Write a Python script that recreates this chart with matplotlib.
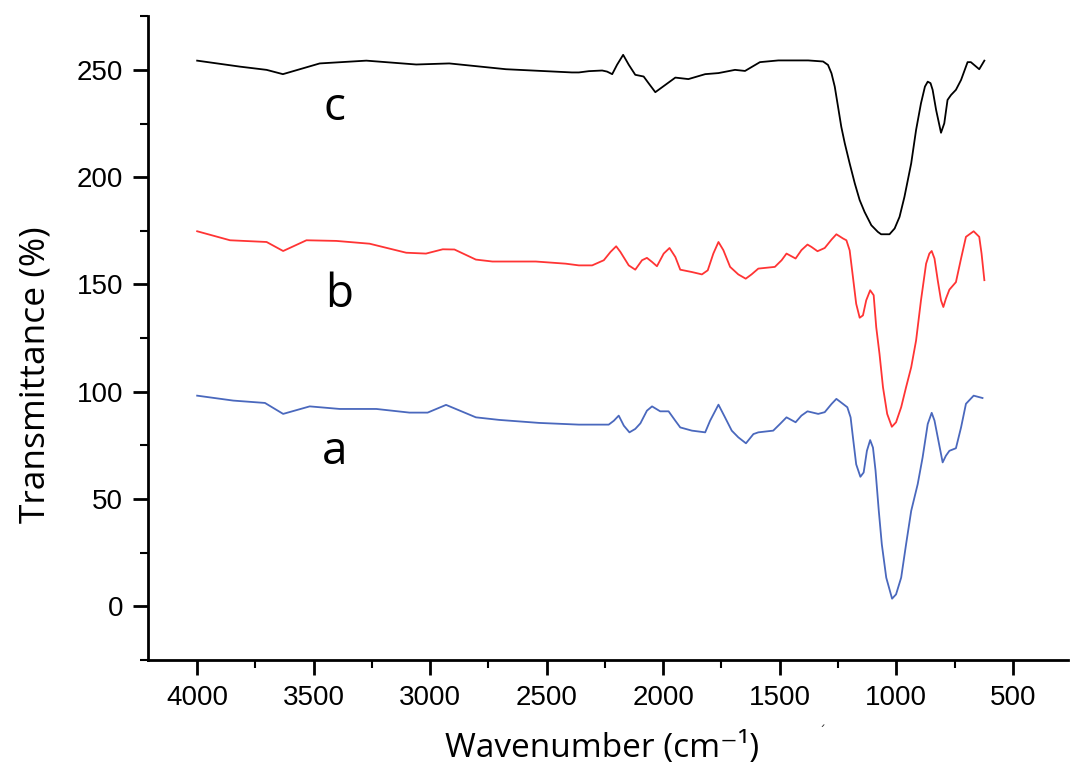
import matplotlib
matplotlib.use("Agg")
import matplotlib.pyplot as plt
from matplotlib.ticker import MultipleLocator

# ---- data ----
wn_c = [4000, 3816, 3702, 3632, 3474, 3274, 3060, 2918, 2675, 2392,
        2362, 2319, 2262, 2241, 2219, 2198, 2172, 2148, 2120, 2084, 2063, 2034, 1991,
        1948, 1892, 1820, 1763, 1692, 1649, 1621, 1585, 1506, 1378, 1314, 1293,
        1278, 1264, 1250, 1236, 1221, 1200, 1178, 1157, 1136, 1107, 1079, 1065, 1029,
        1007, 986, 965, 936, 915, 894, 877, 865, 853, 844, 829, 808, 794, 780, 765,
        744, 722, 694, 680, 644, 622]
tr_c = [254.3, 251.5, 250.0, 248.0, 253.0, 254.3, 252.5, 253.0, 250.3, 248.8,
        248.8, 249.4, 249.7, 249.2, 248.0, 252.4, 257.0, 252.4, 247.7, 246.9, 243.8, 239.6, 243.0,
        246.4, 245.7, 248.0, 248.5, 250.0, 249.5, 251.3, 253.6, 254.4, 254.4, 253.9, 252.3,
        248.4, 242.2, 232.9, 223.5, 215.8, 206.4, 197.1, 189.3, 183.8, 177.6, 174.5, 173.4, 173.4,
        176.1, 181.5, 190.8, 206.4, 222.0, 234.4, 242.2, 244.5, 243.8, 240.7, 231.3, 220.7, 225.1, 236.0, 238.3,
        240.7, 245.3, 253.6, 253.6, 250.3, 254.3]

wn_b = [4000, 3859, 3702, 3631, 3531, 3403, 3260, 3103, 3018, 2946, 2896, 2804, 2733,
        2547, 2419, 2362, 2305, 2255, 2226, 2202, 2184, 2148, 2120, 2091, 2070, 2048,
        2027, 1998, 1973, 1948, 1927, 1877, 1834, 1809, 1785, 1763, 1742, 1713, 1678,
        1646, 1621, 1592, 1521, 1492, 1471, 1432, 1407, 1381, 1364, 1338, 1307, 1278,
        1257, 1228, 1214, 1200, 1186, 1172, 1157, 1143, 1129, 1112, 1097, 1086, 1072,
        1057, 1039, 1019, 1001, 979, 958, 936, 915, 894, 872, 858, 848, 836, 822, 808,
        798, 787, 772, 744, 722, 701, 668, 644, 634, 622]
tr_b = [174.8, 170.6, 169.8, 165.6, 170.6, 170.3, 169.0, 164.8, 164.4, 166.4, 166.3, 161.6, 160.7,
        160.7, 159.7, 158.9, 158.9, 161.3, 165.2, 167.8, 165.2, 158.9, 156.9, 161.3, 162.4, 160.5,
        158.5, 164.4, 167.0, 162.8, 156.9, 155.8, 154.7, 156.6, 164.4, 169.8, 166.0, 158.2, 154.7,
        152.7, 154.7, 157.4, 158.2, 161.3, 164.4, 162.1, 166.0, 168.6, 167.5, 165.5, 167.0, 170.9,
        173.4, 171.4, 170.6, 165.9, 153.5, 141.0, 134.5, 135.6, 142.6, 147.3, 145.0, 130.1, 117.7,
        102.1, 89.7, 83.7, 85.8, 92.8, 102.1, 111.4, 123.9, 142.6, 159.7, 164.4, 165.6, 162.1, 151.9, 142.6,
        139.5, 143.4, 147.6, 151.1, 162.1, 172.2, 174.8, 172.2, 164.4, 152.0]

wn_a = [4000, 3845, 3709, 3631, 3517, 3388, 3231, 3089, 3011, 2932, 2804, 2704, 2533,
        2362, 2234, 2212, 2191, 2169, 2145, 2120, 2098, 2070, 2048, 2013, 1977, 1948,
        1927, 1877, 1820, 1799, 1763, 1735, 1706, 1678, 1645, 1613, 1592, 1528, 1499,
        1471, 1432, 1407, 1381, 1335, 1307, 1278, 1257, 1228, 1210, 1196, 1186, 1172,
        1154, 1140, 1126, 1112, 1100, 1089, 1075, 1062, 1043, 1018, 1001, 979, 958, 936,
        908, 887, 865, 848, 836, 822, 801, 787, 772, 744, 722, 701, 668, 630]
tr_a = [98.2, 95.9, 94.8, 89.7, 93.2, 92.0, 92.0, 90.3, 90.3, 93.9, 88.1, 86.9, 85.5,
        84.7, 84.7, 86.5, 88.9, 84.2, 81.1, 82.7, 85.3, 91.2, 93.2, 90.9, 90.9, 86.5,
        83.4, 81.9, 81.1, 86.5, 94.0, 88.1, 81.9, 78.8, 76.0, 80.3, 81.1, 81.9, 85.0,
        88.1, 85.8, 88.9, 90.9, 89.7, 90.5, 94.3, 96.7, 94.3, 92.8, 88.1, 78.8, 66.2,
        60.4, 62.4, 72.5, 77.5, 74.0, 63.3, 44.5, 28.9, 13.4, 3.6, 5.6, 13.4, 28.9, 44.5,
        57.0, 69.4, 85.0, 90.2, 86.6, 78.8, 67.1, 70.2, 72.5, 73.7, 83.4, 94.4, 98.2, 97.1]

labels = ["a", "b", "c"]
label_x = [3410, 3390, 3410]
label_y = [72, 145, 232]

x_ticks = [4000, 3500, 3000, 2500, 2000, 1500, 1000, 500]
y_ticks = [0, 50, 100, 150, 200, 250]

# ---- figure ----
fig = plt.figure(figsize=(10.74, 7.72), dpi=100)
ax = fig.add_axes([0.138, 0.145, 0.856, 0.834])

ax.plot(wn_c, tr_c, color="black", lw=1.3)
ax.plot(wn_b, tr_b, color="#ff3434", lw=1.3)
ax.plot(wn_a, tr_a, color="#4a68bd", lw=1.3)

for lab, lx, ly in zip(labels, label_x, label_y):
    ax.text(lx, ly, lab, fontsize=33, family=["Open Sans", "DejaVu Sans"],
            ha="center", va="center")

ax.set_xlim(4210, 265)
ax.set_ylim(-25, 275)
ax.set_xticks(x_ticks)
ax.set_yticks(y_ticks)
ax.xaxis.set_minor_locator(MultipleLocator(250))
ax.yaxis.set_minor_locator(MultipleLocator(25))

for s in ["top", "right"]:
    ax.spines[s].set_visible(False)
for s in ["left", "bottom"]:
    ax.spines[s].set_linewidth(2)

ax.tick_params(which="major", direction="out", length=11, width=2)
ax.tick_params(which="minor", direction="out", length=6, width=1.5)
ax.tick_params(axis="y", labelsize=20, pad=7)
ax.tick_params(axis="x", labelsize=20, pad=7)
for t in ax.get_yticklabels() + ax.get_xticklabels():
    t.set_family(["Liberation Sans", "DejaVu Sans"])

ax.set_ylabel("Transmittance (%)", fontsize=25.5, family=["Open Sans", "DejaVu Sans"])
ax.yaxis.set_label_coords(-0.104, 0.4425)
ax.set_xlabel("Wavenumber (cm\u207b\u00b9)", fontsize=24,
              family=["Open Sans", "DejaVu Sans"])
ax.xaxis.set_label_coords(0.4935, -0.112)

# small stray mark present in the reference image
fig.text(0.765, 0.052, "\u02ca", fontsize=10, color="#333333", ha="center", va="center")

fig.savefig("out.png", dpi=100)
